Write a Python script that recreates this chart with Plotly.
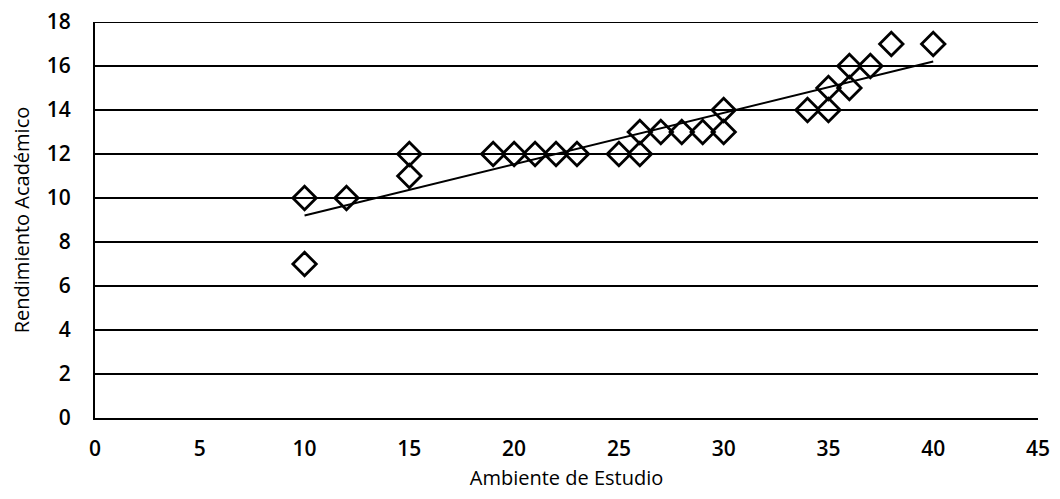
import numpy as np
import plotly.graph_objects as go

ambiente = [10, 10, 12, 15, 15, 19, 20, 21, 22, 23, 25, 26, 26, 27, 28, 29, 30, 30, 34, 35, 35, 36, 36, 37, 38, 40]
rendimiento = [10, 7, 10, 12, 11, 12, 12, 12, 12, 12, 12, 13, 12, 13, 13, 13, 14, 13, 14, 15, 14, 16, 15, 16, 17, 17]
x_ticks = [0, 5, 10, 15, 20, 25, 30, 35, 40, 45]
y_ticks = [0, 2, 4, 6, 8, 10, 12, 14, 16, 18]

slope, intercept = np.polyfit(ambiente, rendimiento, 1)
x_line = [min(ambiente), max(ambiente)]
y_line = [slope * v + intercept for v in x_line]

fig = go.Figure()
fig.add_trace(go.Scatter(
    x=ambiente, y=rendimiento, mode="markers",
    marker=dict(symbol="diamond-open", size=18, color="black", line=dict(width=2.8, color="black")),
    showlegend=False, cliponaxis=False,
))
fig.add_trace(go.Scatter(
    x=x_line, y=y_line, mode="lines",
    line=dict(color="black", width=2), showlegend=False,
))

# gridline at the top tick (range edge), drawn as the plot's top border
fig.add_shape(type="line", xref="paper", x0=0, x1=1, yref="y", y0=max(y_ticks), y1=max(y_ticks),
              line=dict(color="black", width=2), layer="below")

font = "Open Sans, Liberation Sans, sans-serif"
tf = dict(family=font, size=21, color="black", weight=600)
ttl = dict(family=font, size=20, color="black", weight=500)
# page body has an 8px margin, so the figure is sized/offset to compensate (no scrollbars)
fig.update_layout(
    width=1044, height=483,
    margin=dict(l=87, r=14, t=14, b=73, autoexpand=False),
    paper_bgcolor="white", plot_bgcolor="white",
    font=dict(family=font, size=21, color="black"),
)
fig.update_xaxes(
    range=[0, 45], tickvals=x_ticks, showgrid=False, zeroline=False,
    showline=True, linecolor="black", linewidth=2,
    ticks="outside", ticklen=11, tickcolor="white",
    automargin=False, ticklabeloverflow="allow",
    title=dict(text="Ambiente de Estudio", font=ttl, standoff=10),
    tickfont=tf,
)
fig.update_yaxes(
    range=[0, 18], tickvals=y_ticks, showgrid=True, gridcolor="black", gridwidth=2,
    zeroline=False, showline=True, linecolor="black", linewidth=2,
    ticks="outside", ticklen=18, tickcolor="white",
    automargin=False, ticklabeloverflow="allow",
    title=dict(text="Rendimiento Académico", font=ttl, standoff=20),
    tickfont=tf,
)
fig.write_html("out.html")
